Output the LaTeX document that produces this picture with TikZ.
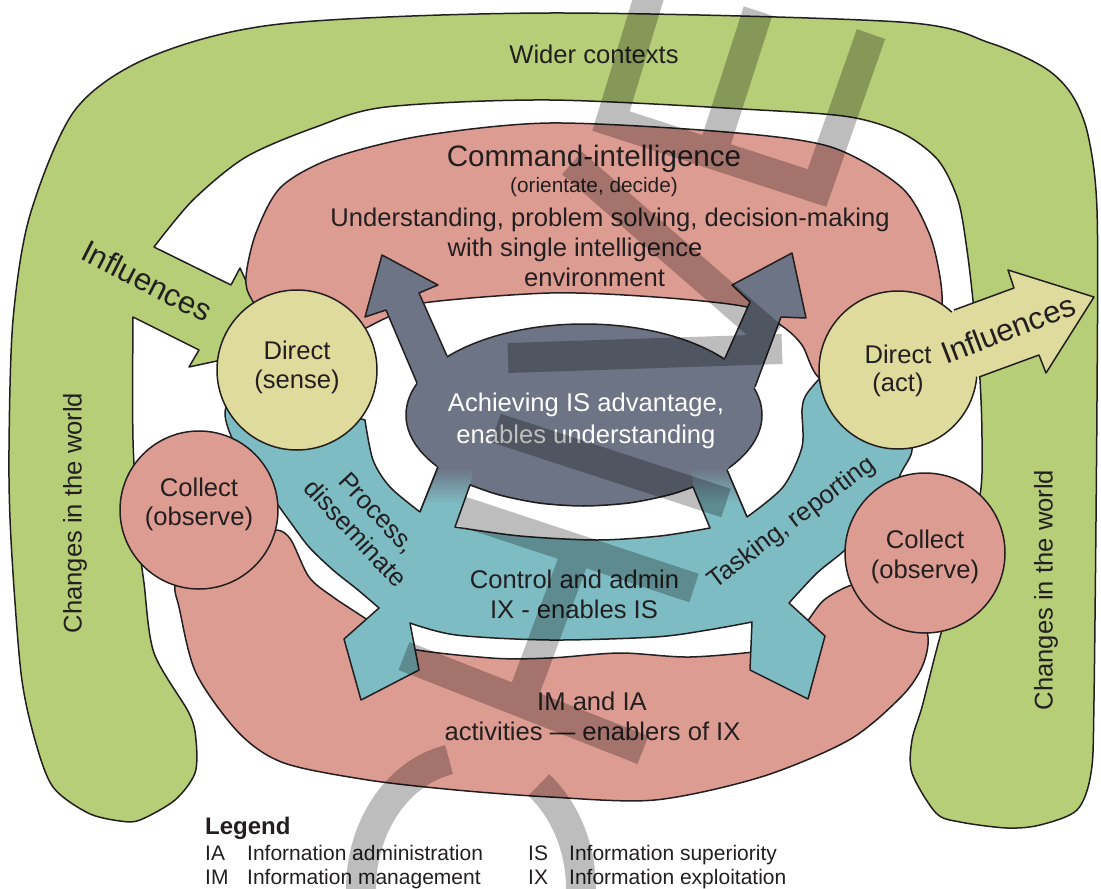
\documentclass[tikz,border=0pt]{standalone}
\usepackage{fontspec}
\setmainfont{Liberation Sans}
\usetikzlibrary{shapes.geometric}
\definecolor{greenc}{RGB}{182,206,119}
\definecolor{pinkc}{RGB}{221,156,146}
\definecolor{tealc}{RGB}{126,188,195}
\definecolor{grayc}{RGB}{109,116,133}
\definecolor{yellowc}{RGB}{223,219,156}
\definecolor{inkc}{RGB}{35,31,32}
\pgfdeclareverticalshading{neckshade}{100bp}{color(0bp)=(tealc); color(45bp)=(tealc); color(65bp)=(grayc); color(100bp)=(grayc)}
\begin{document}
\begin{tikzpicture}[x=1pt,y=-1pt,
  outl/.style={draw=inkc, line width=1.5pt, line join=round},
  lbl/.style={text=inkc, inner sep=0pt, font=\fontsize{25.6}{30}\selectfont},
  lgd/.style={text=inkc, inner sep=0pt, anchor=base west, font=\fontsize{21}{25}\selectfont},
  ring/.style={circle, draw=inkc, line width=1.5pt, inner sep=0pt, minimum size=#1},
  wm/.style={draw=black, draw opacity=0.26, line width=30pt, line cap=butt, line join=miter}]
\useasboundingbox (0,0) rectangle (1101,889);
\clip (0,0) rectangle (1101,889);

% ---------- green wider context band ----------
\draw[outl, fill=greenc] plot[smooth] coordinates {(133,317) (133,440) (139,540) (144,583) (154,653) (189,713) (196,740) (195,773) (175,800) (140,820) (120,821) (88,813) (53,787) (35,740) (21,673) (11,540) (9,450) (13,320) (30,215) (75,110) (150,57) (280,24) (550,13) (900,22) (990,43) (1045,68) (1072,95) (1088,135) (1097,210) (1097,400) (1094,700) (1091,773) (1077,810) (1040,825) (1007,828) (960,822) (936,813) (912,773) (912,740) (922,707) (937,648) (960,565) (980,495) (982,440) (980,380) (974,310) (967,250) (958,200) (938,160) (902,133) (850,117) (760,110) (550,100) (386,107) (316,127) (246,157) (193,200) (154,247)}
  -- (231,285) -- (240,268) -- (277,348) -- (189,367) -- (199,350) -- cycle;

% ---------- pink bottom band ----------
\draw[outl, fill=pinkc] plot[smooth] coordinates {(185,560) (175,586) (179,607) (196,673) (239,733) (284,763) (368,780) (456,790) (550,797) (655,800) (761,777) (849,740) (901,697) (922,667) (928,637) (915,600) (880,585) (852,585) (824,600) (806,623) (790,640) (768,650) (690,657) (620,653) (550,658) (491,658) (403,647) (372,623) (333,597) (309,577) (291,540) (277,530) (250,535)} -- cycle;

% ---------- pink command band ----------
\draw[outl, fill=pinkc] plot[smooth] coordinates {(285,345) (252,300) (246,277) (256,233) (281,187) (333,158) (421,136) (550,123) (726,132) (831,147) (901,187) (929,233) (940,277) (942,310) (935,350) (880,385) (822,380) (802,345) (782,326) (747,307) (655,297) (550,293) (423,303) (386,318) (362,330) (320,350)} -- cycle;

% ---------- teal control band ----------
\draw[outl, fill=tealc] plot[smooth] coordinates {(265,395) (232,400) (225,412) (228,428) (236,445) (260,480) (278,505) (291,523) (309,547) (333,570) (358,590) (379,608)}
  -- (344,639) -- (361,700) -- (419,670) -- (410,623)
  -- plot[smooth] coordinates {(410,623) (456,635) (550,640) (655,637) (708,630) (752,622)}
  -- (750,670) -- (808,699) -- (825,636) -- (789,603)
  -- plot[smooth] coordinates {(789,603) (817,573) (845,550) (880,515) (901,473) (912,450) (905,420) (860,395) (820,378)}
  -- plot[smooth] coordinates {(820,378) (806,395) (802,410) (802,447) (783,487) (747,517)}
  -- (727,470) -- (700,458) -- (460,458) -- (438,467) -- (420,512)
  -- plot[smooth] coordinates {(420,512) (390,487) (373,460) (365,420)}
  -- (330,410) -- cycle;

% ---------- grey core with two arrows ----------
\node[ellipse, draw=inkc, line width=1.5pt, fill=grayc, minimum width=356pt, minimum height=182pt, inner sep=0pt] (core) at (584,415) {};
\fill[grayc] (417,383) -- (386,310) -- (365,317) -- (382,255) -- (438,285) -- (419,293) -- (447,356) -- (440,395) -- (425,400) -- cycle;
\draw[outl] (417,383) -- (386,310) -- (365,317) -- (382,255) -- (438,285) -- (419,293) -- (447,356);
\fill[grayc] (725,358) -- (750,302) -- (732,285) -- (792,253) -- (806,318) -- (781,317) -- (755,387) -- (740,400) -- (728,395) -- cycle;
\draw[outl] (725,358) -- (750,302) -- (732,285) -- (792,253) -- (806,318) -- (781,317) -- (755,387);

% necks: grey to teal
\shade[shading=neckshade] (428,450) -- (478,450) -- (470,485) -- (458,540) -- (440,540) -- (420,512) -- (438,467) -- cycle;
\shade[shading=neckshade] (690,450) -- (740,450) -- (727,470) -- (747,517) -- (740,540) -- (700,540) -- (693,487) -- cycle;
\draw[outl] (438,467) -- (420,512);
\draw[outl] (727,470) -- (747,517);

% white gap under the core
\draw[outl, fill=white] plot[smooth] coordinates {(470,485) (500,495.2) (540,503.2) (584,506) (630,502.9) (670,494.7) (693,486.9)} -- (710,528)
  -- plot[smooth] coordinates {(710,528) (660,536) (597,540) (520,536) (455,527)} -- cycle;

% ---------- circles ----------
\node[ring=160pt, fill=yellowc] (dsense) at (297,370) {};
\node[ring=158pt, fill=pinkc] (colL) at (199,510) {};
\node[ring=160pt, fill=pinkc] (colR) at (925,553) {};
\node[ring=158pt, fill=yellowc] (dact) at (898,370) {};
\fill[yellowc] (954,310) -- (1014,288) -- (1008,270) -- (1094,297) -- (1046,373) -- (1039,355) -- (979,377) -- (940,370) -- (935,330) -- cycle;
\draw[outl] (954,310) -- (1014,288) -- (1008,270) -- (1094,297) -- (1046,373) -- (1039,355) -- (979,377);

% ---------- texts ----------
\node[lbl, anchor=base] (wider) at (594,63) {Wider contexts};
\node[lbl, anchor=base, font=\fontsize{29.6}{34}\selectfont] (cmd) at (594,166) {Command-intelligence};
\node[lbl, anchor=base, font=\fontsize{20.8}{24}\selectfont] (od) at (594,192) {(orientate, decide)};
\node[lbl, anchor=base] (u1) at (610,226.5) {Understanding, problem solving, decision-making};
\node[lbl, anchor=base] (u2) at (575,256.5) {with single intelligence};
\node[lbl, anchor=base] (u3) at (594.5,286.5) {environment};
\node[lbl, anchor=base, text=white] (ach1) at (586,411.5) {Achieving IS advantage,};
\node[lbl, anchor=base, text=white] (ach2) at (586,443) {enables understanding};
\node[lbl, anchor=base] (ds1) at (297,359.5) {Direct};
\node[lbl, anchor=base] (ds2) at (297,388) {(sense)};
\node[lbl, anchor=base] (da1) at (898,363.3) {Direct};
\node[lbl, anchor=base] (da2) at (898,391.5) {(act)};
\node[lbl, anchor=base] (cl1) at (199,496.7) {Collect};
\node[lbl, anchor=base] (cl2) at (199,525.5) {(observe)};
\node[lbl, anchor=base] (cr1) at (925,548) {Collect};
\node[lbl, anchor=base] (cr2) at (925,578) {(observe)};
\node[lbl, anchor=base] (ca1) at (574.5,588) {Control and admin};
\node[lbl, anchor=base] (ca2) at (574,618.3) {IX - enables IS};
\node[lbl, anchor=base] (im1) at (592,710) {IM and IA};
\node[lbl, anchor=base] (im2) at (592.5,740) {activities — enablers of IX};
\node[lbl, align=center, rotate=-47] (proc) at (366.5,523) {Process,\\disseminate};
\node[lbl, rotate=37] (task) at (792,523) {Tasking, reporting};
\node[lbl, rotate=-27, font=\fontsize{31}{36}\selectfont] (infL) at (147,281) {Influences};
\node[lbl, rotate=21, font=\fontsize{31}{36}\selectfont] (infR) at (1008,329) {Influences};
\node[lbl, rotate=90] (chL) at (75,513) {Changes in the world};
\node[lbl, rotate=90] (chR) at (1046,590) {Changes in the world};

% ---------- legend ----------
\node[lgd, font=\bfseries\fontsize{24}{28}\selectfont] (lg) at (205,834) {Legend};
\node[lgd] (lgIA) at (205,860) {IA};
\node[lgd] (lgIAt) at (247,860) {Infornation administration};
\node[lgd] (lgIM) at (205,884.5) {IM};
\node[lgd] (lgIMt) at (247,884.5) {Information management};
\node[lgd] (lgIS) at (528,860) {IS};
\node[lgd] (lgISt) at (569,860) {Information superiority};
\node[lgd] (lgIX) at (528,884.5) {IX};
\node[lgd] (lgIXt) at (569,884.5) {Information exploitation};

% ---------- translucent grey overlay ----------
\draw[wm] (651,-10) -- (611,121) -- (817,188) -- (871,34)
  (758,11) -- (714,148)
  (572,163) -- (772,337)
  (782,349) -- (508,358)
  (496,428) -- (726,503)
  (461,511) -- (694,588)
  (576,553) -- (525,690)
  (404,656) -- (643,750)
  plot[domain=172:258.5, samples=40, variable=\t] ({471+110*cos(\t)},{889+132*sin(\t)})
  plot[domain=308:368, samples=30, variable=\t] ({471+110*cos(\t)},{889+132*sin(\t)});
\end{tikzpicture}
\end{document}
